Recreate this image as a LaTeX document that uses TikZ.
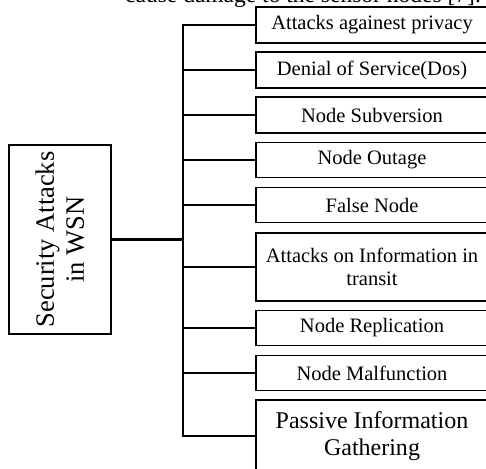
\documentclass[tikz,border=0pt]{standalone}
\usepackage{fontspec}
\setmainfont{Liberation Serif}
\begin{document}
\begin{tikzpicture}[x=1pt,y=-1pt,
  item/.style={draw, line width=1.6pt, minimum width=232pt, align=center, inner sep=0pt,
    font=\fontsize{20.5}{22.5}\selectfont},
  wire/.style={line width=1.7pt},
  thickwire/.style={line width=2.3pt}]
\useasboundingbox (0,0) rectangle (486,468);
\clip (0,0) rectangle (486,468);
\node[anchor=base west, inner sep=0pt, font=\fontsize{23.5}{26}\selectfont] (cap) at (125,3) {cause damage to the sensor nodes [7].};
\node[item, minimum height=36pt] (b1) at (372,25) {Attacks againest privacy};
\node[item, minimum height=36pt] (b2) at (372,70) {Denial of Service(Dos)};
\node[item, minimum height=36pt] (b3) at (372,115) {Node Subversion};
\node[item, minimum height=35pt] (b4) at (372,160) {Node Outage};
\node[item, minimum height=35pt] (b5) at (372,205) {False Node};
\node[item, minimum height=68pt] (b6) at (372,267) {Attacks on Information in\\transit};
\node[item, minimum height=35pt] (b7) at (372,328) {Node Replication};
\node[item, minimum height=35pt] (b8) at (372,373) {Node Malfunction};
\node[item, minimum height=72pt, font=\fontsize{24}{27}\selectfont] (b9) at (372,436) {Passive Information\\Gathering};
\node[draw, line width=1.6pt, rotate=90, minimum width=189pt, minimum height=102pt, align=center,
  inner sep=0pt, font=\fontsize{26.5}{30}\selectfont] (root) at (60,239.5) {Security Attacks\\in WSN};
\coordinate (bus) at (183,0);
\draw[wire] (b1.west) -- (b1.west -| bus) -- (b9.west -| bus) -- (b9.west);
\foreach \n in {b2,b3,b4,b5,b6,b7,b8} {
  \draw[wire] (\n.west) -- (\n.west -| bus);
}
\draw[thickwire] (root.south) -- (root.south -| bus);
\end{tikzpicture}
\end{document}
